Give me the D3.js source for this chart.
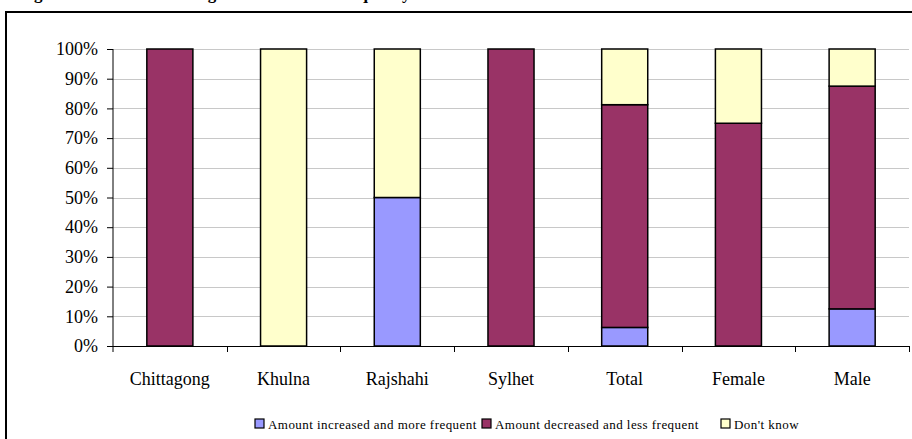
<!DOCTYPE html>
<html>
<head>
<meta charset="utf-8">
<script src="https://cdn.jsdelivr.net/npm/d3@7/dist/d3.min.js"></script>
<style>
  html, body { margin: 0; padding: 0; background: #fff; }
  svg { display: block; }
  text { font-family: "Liberation Serif", "Times New Roman", serif; fill: #000; }
</style>
</head>
<body>
<svg id="chart" width="912" height="439"></svg>
<script>
// Share of respondents by perceived change (percent)
const categories = ["Chittagong", "Khulna", "Rajshahi", "Sylhet", "Total", "Female", "Male"];
const increased  = [0, 0, 50, 0, 6.25, 0, 12.5];
const decreased  = [100, 0, 0, 100, 75, 75, 75];
const dontKnow   = [0, 100, 50, 0, 18.75, 25, 12.5];
const seriesNames = ["Amount increased and more frequent", "Amount decreased and less frequent", "Don't know"];
const seriesColors = ["#9999FF", "#993366", "#FFFFCC"];
const yTicks = [0, 10, 20, 30, 40, 50, 60, 70, 80, 90, 100];
const titleText = "Figure 10: Perceived change in amount and frequency of rainfall";

const svg = d3.select("#chart");
const serif = "'Liberation Serif', 'Times New Roman', serif";

// Title sits above the frame; only its lowest part falls inside the canvas
svg.append("text")
  .attr("x", 19).attr("y", -1)
  .attr("font-size", 17).attr("font-weight", "bold")
  .text(titleText);

// Chart frame
svg.append("rect")
  .attr("x", 6).attr("y", 12)
  .attr("width", 920).attr("height", 440)
  .attr("fill", "none").attr("stroke", "#000").attr("stroke-width", 2);

const plot = { left: 113, right: 909, top: 49, bottom: 346 };

const x = d3.scaleBand().domain(categories).range([plot.left, plot.right]).paddingInner(0.595).paddingOuter(0.2975);
const xOuter = d3.scaleBand().domain(categories).range([plot.left, plot.right]);
const y = d3.scaleLinear().domain([0, 100]).range([plot.bottom, plot.top]);

// Gridlines
svg.append("g").selectAll("line").data(yTicks.filter(d => d > 0)).join("line")
  .attr("x1", plot.left).attr("x2", plot.right)
  .attr("y1", d => Math.round(y(d)) + 0.5).attr("y2", d => Math.round(y(d)) + 0.5)
  .attr("stroke", "#c8c8c8").attr("stroke-width", 1);

// Stacked bars
const rows = categories.map((c, i) => ({ cat: c, s0: increased[i], s1: decreased[i], s2: dontKnow[i] }));
const stack = d3.stack().keys(["s0", "s1", "s2"])(rows);

svg.append("g").selectAll("g").data(stack).join("g")
  .attr("fill", (d, i) => seriesColors[i])
  .selectAll("rect").data(d => d.filter(p => p[1] - p[0] > 0)).join("rect")
  .attr("x", d => x(d.data.cat))
  .attr("width", x.bandwidth())
  .attr("y", d => y(d[1]))
  .attr("height", d => y(d[0]) - y(d[1]))
  .attr("stroke", "#000").attr("stroke-width", 1.5);

// Y axis
const yAxis = d3.axisLeft(y).tickValues(yTicks).tickSize(6).tickPadding(9).tickFormat(d => d + "%");
const gy = svg.append("g").attr("transform", `translate(${plot.left},0)`).call(yAxis);
gy.attr("font-family", null).attr("font-size", null);
gy.select(".domain").attr("d", `M0,${plot.top}V${plot.bottom + 6}`).attr("stroke", "#000");
gy.selectAll(".tick line").attr("stroke", "#000");
gy.selectAll("text").style("font-family", serif).style("font-size", "18px").attr("fill", "#000");

// X axis: ticks at category boundaries
const gx = svg.append("g");
gx.append("line").attr("x1", plot.left).attr("x2", plot.right)
  .attr("y1", plot.bottom + 0.5).attr("y2", plot.bottom + 0.5).attr("stroke", "#000");
gx.selectAll("line.tk").data(categories).join("line").attr("class", "tk")
  .attr("x1", d => Math.round(xOuter(d) + xOuter.bandwidth()) + 0.5)
  .attr("x2", d => Math.round(xOuter(d) + xOuter.bandwidth()) + 0.5)
  .attr("y1", plot.bottom).attr("y2", plot.bottom + 6).attr("stroke", "#000");
gx.selectAll("text").data(categories).join("text")
  .attr("x", d => xOuter(d) + xOuter.bandwidth() / 2)
  .attr("y", 385)
  .attr("text-anchor", "middle").attr("font-size", 18)
  .text(d => d);

// Legend
const legendX = [255, 482, 721];
const lg = svg.append("g").selectAll("g").data(seriesNames).join("g")
  .attr("transform", (d, i) => `translate(${legendX[i]},419)`);
lg.append("rect").attr("width", 9).attr("height", 9)
  .attr("fill", (d, i) => seriesColors[i]).attr("stroke", "#000").attr("stroke-width", 1.2);
lg.append("text").attr("x", 13).attr("y", 9.5)
  .attr("font-size", 13).attr("letter-spacing", 0.45)
  .text(d => d);
</script>
</body>
</html>
